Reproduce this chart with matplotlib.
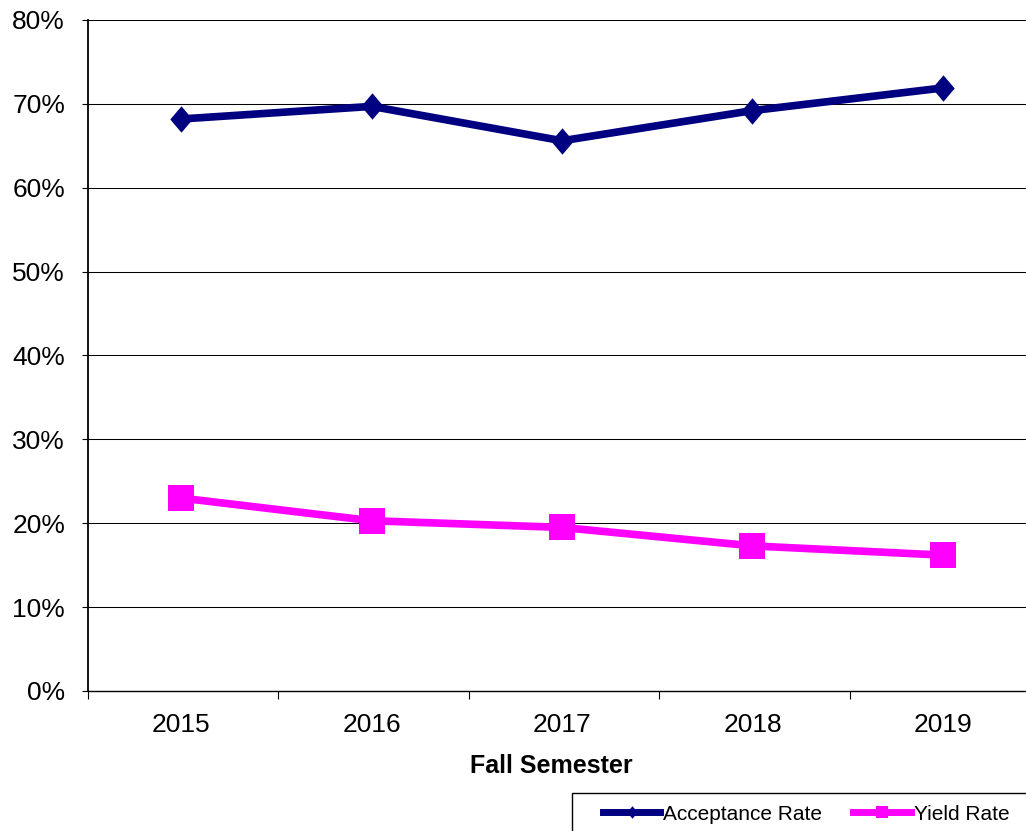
import matplotlib.pyplot as plt
from matplotlib.lines import Line2D
from matplotlib.patches import Rectangle
from matplotlib.ticker import PercentFormatter

plt.rcParams['font.family'] = ['Liberation Sans', 'DejaVu Sans']

years = ['2015', '2016', '2017', '2018', '2019']
acceptance = [68.2, 69.7, 65.6, 69.2, 71.9]
yield_rate = [23.0, 20.3, 19.5, 17.3, 16.2]

navy = '#000080'
magenta = '#FF00FF'
W, H = 1026, 831

# slightly wide diamond, like the original marker
diamond = [(0, 1), (0.85, 0), (0, -1), (-0.85, 0), (0, 1)]

fig = plt.figure(figsize=(W / 100, H / 100), dpi=100)
ax = fig.add_axes([88 / W, 1 - 691 / H, 952 / W, 671 / H])

x = list(range(len(years)))
ax.plot(x, acceptance, color=navy, lw=5.5, marker=diamond, ms=19, mew=0, zorder=3, clip_on=False)
ax.plot(x, yield_rate, color=magenta, lw=5.5, marker='s', ms=18.5, mew=0, zorder=3, clip_on=False)

off = 0.49
ax.set_xlim(-off, len(years) - 1 + (1 - off))
ax.set_ylim(0, 80)
ax.set_yticks(range(0, 81, 10))
ax.yaxis.set_major_formatter(PercentFormatter(decimals=0))
ax.set_xticks(x)
ax.set_xticklabels(years)
ax.set_xticks([i - off for i in range(len(years) + 1)], minor=True)
ax.tick_params(axis='x', which='major', length=0, pad=16, labelsize=19)
ax.tick_params(axis='x', which='minor', length=6, width=0.8, direction='out')
ax.tick_params(axis='y', length=4.5, width=0.8, pad=12, labelsize=19)

ax.grid(axis='y', color='black', lw=0.75)
ax.set_axisbelow(True)
for s in ['top', 'right']:
    ax.spines[s].set_visible(False)
ax.spines['left'].set_linewidth(1.3)
ax.spines['bottom'].set_linewidth(1.0)

fig.text(551 / W, 1 - 766 / H, 'Fall Semester', ha='center', va='center',
         fontsize=18, fontweight='bold')

# legend box runs off the figure edge like the original
fig.patches.append(Rectangle((572 / W, -0.1), 0.5, 0.1 + (831 - 793) / H,
                             transform=fig.transFigure, fill=False,
                             edgecolor='black', lw=1.0))
handles = [
    Line2D([], [], color=navy, lw=5, marker=diamond, ms=9, mew=0),
    Line2D([], [], color=magenta, lw=5, marker='s', ms=9, mew=0),
]
fig.legend(handles, ['Acceptance Rate', 'Yield Rate'], loc='center left',
           bbox_to_anchor=(603 / W, 1 - 814 / H), ncol=2, frameon=False,
           fontsize=15, handlelength=2.74, handletextpad=0.15,
           columnspacing=1.5, borderpad=0, borderaxespad=0)

fig.savefig('out.png', dpi=100)
